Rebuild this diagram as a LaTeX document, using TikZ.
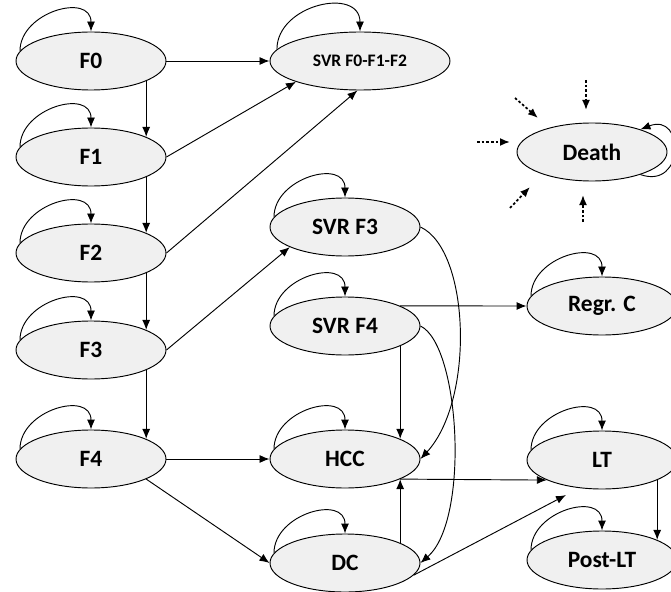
\documentclass[tikz,border=0pt]{standalone}
\usepackage{fontspec}
\setmainfont{Carlito}
\usetikzlibrary{shapes.geometric,arrows.meta,positioning}
\definecolor{statefill}{RGB}{240,240,240}

\begin{document}
\begin{tikzpicture}[
	%	style def
    x=0.03cm, y=-0.03cm,
    state/.style={ellipse, draw, fill=statefill, line width=0.8pt, minimum width=4.5cm, minimum height=1.74cm, inner sep=0pt, font=\fontsize{20}{22}\selectfont\bfseries},
    wide state/.style={state, minimum width=5.4cm, font=\fontsize{15}{17}\selectfont\bfseries},
    trans/.style={line width=0.8pt, -{Latex[length=3mm,width=2.4mm]}},
    death line/.style={trans, line width=1.5pt, dash pattern=on 2.2pt off 1.8pt}
    ]
    \useasboundingbox (0,0) rectangle (671,592);

	% fibrosis stages
    \node[state] (F0) at (91,61) {F0};
    \node[state] (F1) at (91,157) {F1};
    \node[state] (F2) at (91,253) {F2};
    \node[state] (F3) at (91,350) {F3};
    \node[state] (F4) at (91,459) {F4};

    % svr and complications
    \node[wide state] (SVR012) at (360,61) {SVR F0-F1-F2};
    \node[state] (SVR3) at (345,227) {SVR F3};
    \node[state] (SVR4) at (345,326) {SVR F4};
    \node[state] (HCC) at (345,459) {HCC};
    \node[state] (DC) at (345,563) {DC};
    \node[state] (Death) at (592,152) {Death};
    \node[state] (RegrC) at (602,306) {Regr. C};
    \node[state] (LT) at (602,460) {LT};
    \node[state] (PostLT) at (602,560) {Post-LT};

    % staying in the same state
    \foreach \n in {F0,F1,F2,F3,F4,SVR012,SVR3,SVR4,HCC,DC,RegrC,LT,PostLT}
        \draw[trans] (\n.172) to[out=90,in=90,looseness=1.36] (\n.north);
    \draw[trans] (Death.-25) .. controls (685,190) and (685,112) .. (Death.25);

    % progression
    \foreach \a/\b in {F0/F1,F1/F2,F2/F3,F3/F4}
        \draw[trans] (\a.-20) -- (\b.20);
    \draw[trans] (F0) -- (SVR012);
    \draw[trans] (F1.east) -- (SVR012.198);
    \draw[trans] (F2.east) -- (SVR012.265);
    \draw[trans] (F3.east) -- (SVR3.200);
    \draw[trans] (F4) -- (HCC);
    \draw[trans] (F4.-20) -- (DC.180);
    \draw[trans] (SVR4.20) -- (RegrC.west);
    \draw[trans] (SVR4.-20) -- (HCC.20);
    \draw[trans] (SVR3.east) .. controls (470,250) and (475,400) .. (HCC.east);
    \draw[trans] (SVR4.east) .. controls (460,345) and (470,520) .. (DC.east);
    \draw[trans] (DC.20) -- (HCC.-20);
    \draw[trans] (HCC.-20) -- (LT.200);
    \draw[trans, shorten >=4.5mm] (DC.-10) -- (LT.231);
    \draw[trans] (LT.-20) -- (PostLT.20);

    % death from every state (dotted)
    \foreach \sx/\sy/\ex/\ey in {-115/-10/-82/-10, -77/-54/-54/-34, -6/-72/-6/-42, -82/56/-62/35, -9/70/-9/43}
        \draw[death line] ([shift={(\sx,\sy)}]Death.center) -- ([shift={(\ex,\ey)}]Death.center);
\end{tikzpicture}
\end{document}
